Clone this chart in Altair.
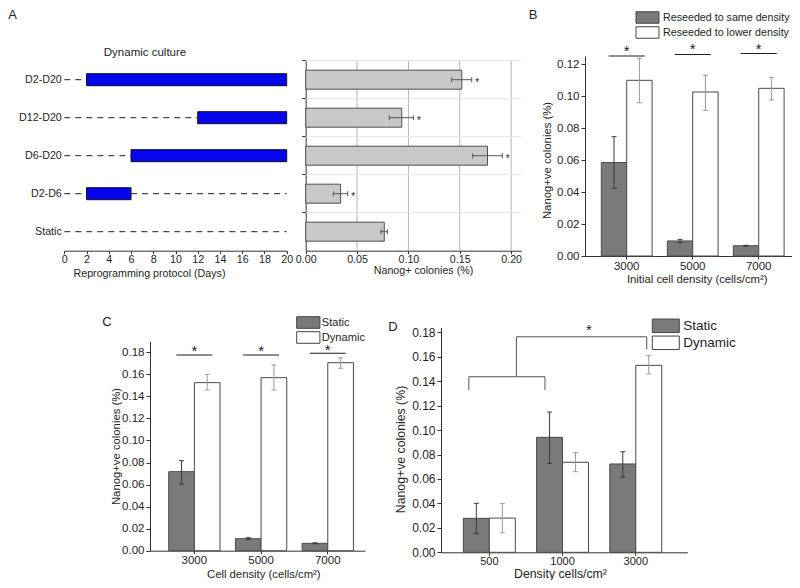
import altair as alt
import pandas as pd

FONT = "Liberation Sans"
INK = "#1e1e1e"
W, H = 784, 572

# ---------------- data ----------------
# Panel A
a_rows = ["D2-D20", "D12-D20", "D6-D20", "D2-D6", "Static"]
a_dyn_start = [2, 12, 6, 2, None]
a_dyn_end = [20, 20, 20, 6, None]
a_days = 20
a_day_ticks = [0, 2, 4, 6, 8, 10, 12, 14, 16, 18, 20]
a_value = [0.152, 0.0935, 0.177, 0.034, 0.0765]
a_lo = [0.142, 0.0814, 0.1626, 0.0269, 0.0733]
a_hi = [0.1616, 0.1048, 0.1914, 0.0409, 0.0795]
a_star = ["*", "*", "*", "*", ""]
a_ticks = [0.0, 0.05, 0.10, 0.15, 0.20]

# Panel B
b_groups = ["3000", "5000", "7000"]
b_series = ["Reseeded to same density", "Reseeded to lower density"]
b_same = [0.0584, 0.0094, 0.0064]
b_same_lo = [0.0423, 0.0084, 0.0061]
b_same_hi = [0.0746, 0.0104, 0.0067]
b_lower = [0.1098, 0.1025, 0.1048]
b_lower_lo = [0.0958, 0.0910, 0.0975]
b_lower_hi = [0.1236, 0.1130, 0.1117]
b_sig = [0.1250, 0.1260, 0.1265]
b_ticks = [0.0, 0.02, 0.04, 0.06, 0.08, 0.10, 0.12]

# Panel C
c_groups = ["3000", "5000", "7000"]
c_series = ["Static", "Dynamic"]
c_static = [0.0717, 0.0109, 0.0067]
c_static_lo = [0.0605, 0.0100, 0.0062]
c_static_hi = [0.0817, 0.0118, 0.0071]
c_dynamic = [0.1525, 0.1570, 0.1706]
c_dynamic_lo = [0.1458, 0.1458, 0.1655]
c_dynamic_hi = [0.1600, 0.1685, 0.1750]
c_sig = [0.1776, 0.1776, 0.1791]
cd_ticks = [0.0, 0.02, 0.04, 0.06, 0.08, 0.10, 0.12, 0.14, 0.16, 0.18]

# Panel D
d_groups = ["500", "1000", "3000"]
d_series = ["Static", "Dynamic"]
d_static = [0.0278, 0.0941, 0.0723]
d_static_lo = [0.0155, 0.0728, 0.0614]
d_static_hi = [0.0401, 0.1148, 0.0823]
d_dynamic = [0.0280, 0.0737, 0.1530]
d_dynamic_lo = [0.0160, 0.0660, 0.1459]
d_dynamic_hi = [0.0400, 0.0815, 0.1609]
# significance bracket (x in group widths, y in data units)
d_low_x = [0.22, 1.26]
d_low_y = [0.1328, 0.1437]
d_up_x = [0.87, 2.65]
d_up_y = [0.1660, 0.1764]
d_star_x = 1.86
d_star_y = 0.1846

# ---------------- layout (pixels in chart space) ----------------
A_ROW_PX = [52.7, 242.7]
A_AXIS_Y = 242.7
AL_X_PX = [56.3, 278.7]
AR_X_PX = [297.7, 513.4]
AR_MAX = 0.21

units = []


def band_y():
    return alt.Scale(type="band", domain=a_rows, range=A_ROW_PX, paddingInner=0, paddingOuter=0)


def ay(ax=None, **kw):
    return alt.Y("row:N", scale=band_y(), sort=a_rows, axis=ax, **kw)


# ---------------- Panel A left (protocol) ----------------
def xs_AL():
    return alt.Scale(domain=[0, a_days], range=AL_X_PX, nice=False, zero=False)


dyn_df = pd.DataFrame({
    "row": [r for r, s in zip(a_rows, a_dyn_start) if s is not None],
    "start": [s for s in a_dyn_start if s is not None],
    "end": [e for e in a_dyn_end if e is not None],
})
dash_rows = []
for r, s, e in zip(a_rows, a_dyn_start, a_dyn_end):
    if s is None:
        dash_rows.append({"row": r, "x0": 0, "x1": a_days})
    else:
        if s > 0:
            dash_rows.append({"row": r, "x0": 0, "x1": s})
        if e < a_days:
            dash_rows.append({"row": r, "x0": e, "x1": a_days})
dash_df = pd.DataFrame(dash_rows)

al_x_axis = alt.Axis(orient="bottom", offset=A_AXIS_Y - H, values=a_day_ticks, format="d",
                     title="Reprogramming protocol (Days)", titleX=141,
                     labelFontSize=10.7, titleFontSize=10.7, tickSize=3, labelPadding=1,
                     titlePadding=4, labelFlush=False, labelOverlap=False, grid=False)
al_y_axis = alt.Axis(orient="left", offset=-AL_X_PX[0], title=None, domain=False, ticks=False,
                     labelPadding=3, labelFontSize=10.7, grid=False)

units.append(alt.Chart(dash_df).mark_rule(stroke=INK, strokeWidth=1, strokeDash=[6, 5]).encode(
    x=alt.X("x0:Q", scale=xs_AL(), axis=None), x2="x1:Q", y=ay(al_y_axis)))
units.append(alt.Chart(dyn_df).mark_bar(height=12, fill="#0606ee", stroke="#111111", strokeWidth=1,
                                       opacity=1).encode(
    x=alt.X("start:Q", scale=xs_AL(), axis=al_x_axis), x2="end:Q", y=ay()))
units.append(alt.Chart(pd.DataFrame({"t": ["Dynamic culture"]})).mark_text(
    fontSize=11.5, align="center", baseline="middle").encode(
    text="t:N", x=alt.value(137), y=alt.value(45)))

# ---------------- Panel A right (Nanog+) ----------------
ar_df = pd.DataFrame({"row": a_rows, "value": a_value, "lo": a_lo, "hi": a_hi, "star": a_star})


def xs_AR():
    return alt.Scale(domain=[0, AR_MAX], range=AR_X_PX, nice=False, zero=True)


ar_x_axis = alt.Axis(orient="bottom", offset=A_AXIS_Y - H, values=a_ticks, format=".2f",
                     title="Nanog+ colonies (%)", titleX=415, grid=False,
                     labelFontSize=10.7, titleFontSize=10.7, tickSize=3, labelPadding=1,
                     titlePadding=1, labelFlush=False, labelOverlap=False)
ar_y_axis = alt.Axis(orient="left", offset=-AR_X_PX[0], title=None, labels=False, bandPosition=0,
                     tickSize=4, grid=False)
# light grid: vertical at the value ticks, horizontal at the row boundaries
units.append(alt.Chart(pd.DataFrame({"t": a_ticks[1:]})).mark_rule(stroke="#b4b4b4", strokeWidth=1).encode(
    x=alt.X("t:Q", scale=xs_AR(), axis=None), y=alt.value(A_ROW_PX[0]), y2=alt.value(A_ROW_PX[1])))
units.append(alt.Chart(pd.DataFrame({"row": a_rows})).mark_rule(stroke="#e4e4e4", strokeWidth=1).encode(
    y=ay(bandPosition=0), x=alt.value(AR_X_PX[0]), x2=alt.value(AR_X_PX[1])))
ar_base = alt.Chart(ar_df)
units.append(ar_base.mark_bar(height=19, fill="#c8c8c8", stroke="#505050", strokeWidth=1, opacity=1).encode(
    x=alt.X("value:Q", scale=xs_AR(), axis=ar_x_axis), y=ay(ar_y_axis)))
units.append(ar_base.mark_rule(stroke="#555555", strokeWidth=1).encode(
    x=alt.X("lo:Q", scale=xs_AR(), axis=None), x2="hi:Q", y=ay()))
for fld in ["lo", "hi"]:
    units.append(ar_base.mark_tick(orient="vertical", size=5, thickness=1, color="#555555", opacity=1).encode(
        x=alt.X(f"{fld}:Q", scale=xs_AR(), axis=None), y=ay()))
units.append(ar_base.mark_text(fontSize=10, dx=5.5, dy=6, baseline="alphabetic", align="center").encode(
    x=alt.X("hi:Q", scale=xs_AR(), axis=None), y=ay(), text="star:N"))


# ---------------- grouped bar panels ----------------
def grouped_panel(groups, series, vals, los, his, x_px, y_px, y_max, y_ticks, pad_outer, align,
                  pad_offset, x_title, y_title, tick_font, title_font, legend, x_axis_kw, y_axis_kw):
    n = len(groups)
    df = pd.DataFrame({
        "group": groups * 2,
        "series": [series[0]] * n + [series[1]] * n,
        "value": vals[0] + vals[1],
        "lo": los[0] + los[1],
        "hi": his[0] + his[1],
    })

    def xs():
        return alt.Scale(type="band", domain=groups, range=x_px, paddingInner=0, paddingOuter=pad_outer,
                         align=align)

    def ys():
        return alt.Scale(type="linear", domain=[0, y_max], range=y_px, nice=False, zero=True)

    def X(ax=None):
        return alt.X("group:N", scale=xs(), sort=groups, axis=ax)

    def XO():
        return alt.XOffset("series:N", sort=series,
                           scale=alt.Scale(type="band", domain=series, paddingInner=0, paddingOuter=pad_offset))

    def EC():
        return alt.Color("series:N", scale=alt.Scale(domain=series, range=["#3a3a3a", "#9a9a9a"]),
                         legend=None)

    xk = dict(labelPadding=1, labelFontSize=tick_font)
    xk.update(x_axis_kw)
    x_axis = alt.Axis(orient="bottom", offset=y_px[0] - H, title=x_title, labelAngle=0,
                      tickSize=3, titleFontSize=title_font, **xk)
    y_axis = alt.Axis(orient="left", offset=-x_px[0], values=y_ticks, format=".2f", title=y_title,
                      tickSize=4, labelPadding=2, labelFontSize=tick_font, titleFontSize=title_font,
                      labelFlush=False, labelOverlap=False, **y_axis_kw)
    base = alt.Chart(df)
    out = [base.mark_bar(stroke="#4a4a4a", strokeWidth=1, opacity=1).encode(
        x=X(x_axis), xOffset=XO(),
        y=alt.Y("value:Q", scale=ys(), axis=y_axis, stack=None),
        fill=alt.Fill("series:N", sort=series,
                      scale=alt.Scale(domain=series, range=["#7a7a7a", "#ffffff"]), legend=legend))]
    out.append(base.mark_rule(strokeWidth=1, opacity=1).encode(
        x=X(), xOffset=XO(), y=alt.Y("lo:Q", scale=ys(), axis=None), y2="hi:Q", color=EC()))
    for fld in ["lo", "hi"]:
        out.append(base.mark_tick(orient="horizontal", size=5, thickness=1, opacity=1).encode(
            x=X(), xOffset=XO(), y=alt.Y(f"{fld}:Q", scale=ys(), axis=None), color=EC()))
    return out, X, ys


def sig_units(groups, levels, X, ys, star_dy):
    df = pd.DataFrame({"group": groups, "level": levels, "star": ["*"] * len(groups)})
    line = alt.Chart(df).mark_tick(orient="horizontal", size=36, thickness=1, color=INK, opacity=1).encode(
        x=X(), y=alt.Y("level:Q", scale=ys(), axis=None))
    star = alt.Chart(df).mark_text(fontSize=15, baseline="alphabetic", align="center", dy=star_dy).encode(
        x=X(), y=alt.Y("level:Q", scale=ys(), axis=None), text="star:N")
    return [line, star]


RECT = "M-2,-1H2V1H-2Z"

# Panel B
legB = alt.Legend(orient="none", legendX=633, legendY=3, title=None, symbolType=RECT, symbolSize=132,
                  symbolStrokeColor="#444444", symbolStrokeWidth=1, labelFontSize=10.7, labelOffset=9,
                  rowPadding=-2, labelLimit=300, padding=0)
b_units, XB, ysB = grouped_panel(
    b_groups, b_series, [b_same, b_lower], [b_same_lo, b_lower_lo], [b_same_hi, b_lower_hi],
    x_px=[577, 788], y_px=[248, 48], y_max=0.125, y_ticks=b_ticks, pad_outer=0.0985, align=0.67,
    pad_offset=0.30, x_title="Initial cell density (cells/cm²)", y_title="Nanog+ve colonies (%)",
    tick_font=11.5, title_font=11.3, legend=legB,
    x_axis_kw=dict(titleX=688.7, titlePadding=2), y_axis_kw=dict(titleY=152, titlePadding=4))
units += b_units + sig_units(b_groups, b_sig, XB, ysB, 0)

# Panel C
legC = alt.Legend(orient="none", legendX=293.8, legendY=308, title=None, symbolType=RECT, symbolSize=135,
                  symbolStrokeColor="#444444", symbolStrokeWidth=1, labelFontSize=11.1, labelOffset=7,
                  rowPadding=-6, padding=0)
c_units, XC, ysC = grouped_panel(
    c_groups, c_series, [c_static, c_dynamic], [c_static_lo, c_dynamic_lo],
    [c_static_hi, c_dynamic_hi],
    x_px=[142, 357], y_px=[542.7, 333.3], y_max=0.19, y_ticks=cd_ticks, pad_outer=0.1117, align=0.74,
    pad_offset=0.30, x_title="Cell density (cells/cm²)", y_title="Nanog+ve colonies (%)",
    tick_font=11.5, title_font=11.3, legend=legC,
    x_axis_kw=dict(titleX=255.3, titlePadding=2), y_axis_kw=dict(titleY=438, titleX=-28.3))
units += c_units + sig_units(c_groups, c_sig, XC, ysC, 1.5)

# Panel D
D_X_PX = [433, 679.3]
D_PO, D_ALIGN = 0.182, 0.44
legD = alt.Legend(orient="none", legendX=650.3, legendY=310.3, title=None, symbolType=RECT, symbolSize=182,
                  symbolStrokeColor="#444444", symbolStrokeWidth=1, labelFontSize=13.5, labelOffset=10,
                  rowPadding=-5.5, padding=0)
d_units, XD, ysD = grouped_panel(
    d_groups, d_series, [d_static, d_dynamic], [d_static_lo, d_dynamic_lo],
    [d_static_hi, d_dynamic_hi],
    x_px=D_X_PX, y_px=[544.3, 319.5], y_max=0.184, y_ticks=cd_ticks, pad_outer=D_PO, align=D_ALIGN,
    pad_offset=0.41, x_title="Density cells/cm²", y_title="Nanog+ve colonies (%)",
    tick_font=12, title_font=12.3, legend=legD,
    x_axis_kw=dict(titleX=552, titleY=25.4, titleBaseline="alphabetic", labelFontSize=11, labelPadding=0),
    y_axis_kw=dict(titleY=441, titlePadding=4))
units += d_units

# bracket overlay, x measured in group widths on the same pixel span as the band scale
u_min = -2 * D_PO * D_ALIGN
u_max = len(d_groups) + 2 * D_PO * (1 - D_ALIGN)


def xs_u():
    return alt.Scale(domain=[u_min, u_max], range=D_X_PX, nice=False, zero=False)


seg_df = pd.DataFrame({
    "x0": [d_low_x[0], d_low_x[0], d_low_x[1], d_up_x[0], d_up_x[0], d_up_x[1]],
    "x1": [d_low_x[1], d_low_x[0], d_low_x[1], d_up_x[0], d_up_x[1], d_up_x[1]],
    "y0": [d_low_y[1], d_low_y[0], d_low_y[0], d_low_y[1], d_up_y[1], d_up_y[0]],
    "y1": [d_low_y[1], d_low_y[1], d_low_y[1], d_up_y[1], d_up_y[1], d_up_y[1]],
})
units.append(alt.Chart(seg_df).mark_rule(stroke="#555555", strokeWidth=1).encode(
    x=alt.X("x0:Q", scale=xs_u(), axis=None), x2="x1:Q",
    y=alt.Y("y0:Q", scale=ysD(), axis=None), y2="y1:Q"))
units.append(alt.Chart(pd.DataFrame({"x": [d_star_x], "y": [d_star_y], "t": ["*"]})).mark_text(
    fontSize=15, baseline="alphabetic", align="center", dy=8).encode(
    x=alt.X("x:Q", scale=xs_u(), axis=None), y=alt.Y("y:Q", scale=ysD(), axis=None), text="t:N"))


# ---------------- panel letters ----------------
def letter(t, x, y):
    return alt.Chart(pd.DataFrame({"t": [t]})).mark_text(
        fontSize=13, align="center", baseline="middle").encode(text="t:N", x=alt.value(x), y=alt.value(y))


units += [letter("A", 4.5, 6.5), letter("B", 525, 7), letter("C", 99, 314), letter("D", 385, 319)]

chart = alt.layer(*units).resolve_scale(
    x="independent", y="independent", xOffset="independent", fill="independent", color="independent"
).resolve_axis(
    x="independent", y="independent"
).resolve_legend(
    fill="independent", color="independent"
).properties(
    width=W, height=H, padding=0, autosize=alt.AutoSizeParams(type="none")
).configure_view(
    stroke=None
).configure_axis(
    labelFont=FONT, titleFont=FONT, titleFontWeight="normal", labelColor=INK, titleColor=INK,
    domainColor="#333333", tickColor="#333333", grid=False
).configure_legend(
    labelFont=FONT, labelColor=INK
).configure_text(
    font=FONT, color=INK
)

chart.save("out.html", embed_options={"renderer": "svg", "actions": False})
